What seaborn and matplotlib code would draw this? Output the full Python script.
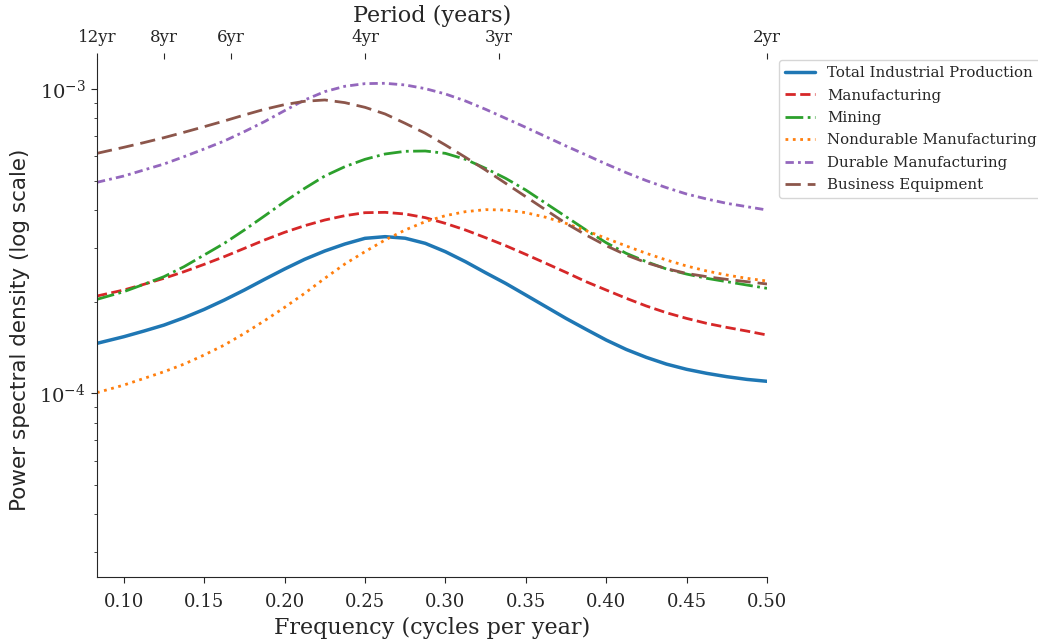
import numpy as np
import pandas as pd
import matplotlib
matplotlib.use("Agg")
import matplotlib.pyplot as plt
import seaborn as sns

# frequencies (cycles per year) at which the curves were read
freq = [1 / 12, 0.1000, 0.1125, 0.1250, 0.1375, 0.1500, 0.1625, 0.1750, 0.1875,
        0.2000, 0.2125, 0.2250, 0.2375, 0.2500, 0.2625, 0.2750, 0.2875,
        0.3000, 0.3125, 0.3250, 0.3375, 0.3500, 0.3625, 0.3750, 0.3875,
        0.4000, 0.4125, 0.4250, 0.4375, 0.4500, 0.4625, 0.4750, 0.4875, 0.5000]

# power spectral density, in units of 1e-3
total_ip = [0.1457, 0.1532, 0.1599, 0.1673, 0.1769, 0.1884, 0.2022, 0.2182, 0.2365,
            0.2558, 0.2753, 0.2932, 0.3091, 0.3227, 0.3268, 0.3230, 0.3107,
            0.2917, 0.2704, 0.2487, 0.2294, 0.2101, 0.1923, 0.1760, 0.1620,
            0.1494, 0.1391, 0.1310, 0.1245, 0.1197, 0.1161, 0.1132, 0.1109, 0.1093]
manufacturing = [0.2085, 0.2182, 0.2278, 0.2384, 0.2507, 0.2650, 0.2809, 0.2991, 0.3186,
                 0.3377, 0.3551, 0.3707, 0.3831, 0.3919, 0.3929, 0.3880, 0.3774,
                 0.3614, 0.3437, 0.3243, 0.3052, 0.2858, 0.2671, 0.2494, 0.2324,
                 0.2182, 0.2049, 0.1933, 0.1837, 0.1760, 0.1695, 0.1644, 0.1599, 0.1552]
mining = [0.2033, 0.2154, 0.2278, 0.2414, 0.2604, 0.2844, 0.3107, 0.3437, 0.3822,
          0.4259, 0.4712, 0.5173, 0.5552, 0.5870, 0.6111, 0.6237, 0.6252,
          0.6142, 0.5870, 0.5483, 0.5082, 0.4653, 0.4206, 0.3802, 0.3437,
          0.3122, 0.2880, 0.2704, 0.2558, 0.2462, 0.2384, 0.2324, 0.2266, 0.2210]
nondurable = [0.1003, 0.1062, 0.1117, 0.1175, 0.1245, 0.1334, 0.1438, 0.1571, 0.1729,
              0.1913, 0.2128, 0.2384, 0.2657, 0.2917, 0.3186, 0.3437, 0.3662,
              0.3831, 0.3949, 0.4010, 0.3999, 0.3919, 0.3784, 0.3614, 0.3420,
              0.3227, 0.3045, 0.2880, 0.2738, 0.2617, 0.2520, 0.2444, 0.2384, 0.2336]
durable = [0.4932, 0.5173, 0.5414, 0.5665, 0.5990, 0.6347, 0.6743, 0.7240, 0.7808,
           0.8485, 0.9201, 0.9800, 1.0205, 1.0412, 1.0439, 1.0308, 1.0025,
           0.9629, 0.9131, 0.8573, 0.8007, 0.7477, 0.6968, 0.6494, 0.6067,
           0.5665, 0.5306, 0.4995, 0.4736, 0.4514, 0.4347, 0.4206, 0.4101, 0.3999]
business_eq = [0.6142, 0.6428, 0.6661, 0.6916, 0.7204, 0.7515, 0.7847, 0.8212, 0.8573,
               0.8882, 0.9109, 0.9201, 0.9017, 0.8702, 0.8276, 0.7709, 0.7150,
               0.6543, 0.5960, 0.5414, 0.4895, 0.4424, 0.3999, 0.3614, 0.3309,
               0.3052, 0.2844, 0.2684, 0.2564, 0.2474, 0.2414, 0.2365, 0.2324, 0.2284]

periods = [12, 8, 6, 4, 3, 2]
period_labels = ["12yr", "8yr", "6yr", "4yr", "3yr", "2yr"]

series = {
    "Total Industrial Production": total_ip,
    "Manufacturing": manufacturing,
    "Mining": mining,
    "Nondurable Manufacturing": nondurable,
    "Durable Manufacturing": durable,
    "Business Equipment": business_eq,
}

styles = {
    "Total Industrial Production": ("#1f77b4", "-", 2.5),
    "Manufacturing": ("#d62728", "--", 2),
    "Mining": ("#2ca02c", "-.", 2),
    "Nondurable Manufacturing": ("#ff7f0e", ":", 2),
    "Durable Manufacturing": ("#9467bd", (0, (3, 1.5, 1, 1.5)), 2),
    "Business Equipment": ("#8c564b", (0, (5.5, 2.5)), 2),
}

if __name__ == "__main__":
    sns.set_style("ticks")
    plt.rcParams["font.family"] = ["DejaVu Serif"]

    fig = plt.figure(figsize=(10.38, 6.41), dpi=100)
    ax = fig.add_axes([0.0934, 0.0998, 0.6455, 0.8082])

    for name, vals in series.items():
        color, ls, lw = styles[name]
        df = pd.DataFrame({"freq": freq, "psd": np.array(vals) * 1e-3})
        sns.lineplot(data=df, x="freq", y="psd", ax=ax, color=color,
                     linestyle=ls, linewidth=lw, label=name)

    ax.set_yscale("log")
    ax.set_xlim(1 / 12, 0.5)
    ax.set_ylim(2.483e-5, 1.255e-3)
    ax.set_xticks([0.10, 0.15, 0.20, 0.25, 0.30, 0.35, 0.40, 0.45, 0.50])
    ax.tick_params(axis="x", labelsize=13, length=4.5, pad=7)
    ax.tick_params(axis="y", which="major", labelsize=14, length=4.5)
    ax.set_xlabel("Frequency (cycles per year)", fontsize=16)
    ax.set_ylabel("Power spectral density (log scale)", fontsize=15.5,
                  family="DejaVu Sans")
    ax.yaxis.set_label_coords(-0.100, 0.477)
    sns.despine(ax=ax)

    # top axis showing the period
    ax2 = ax.twiny()
    ax2.set_xlim(ax.get_xlim())
    ax2.set_xticks([1 / p for p in periods])
    ax2.set_xticklabels(period_labels, fontsize=12)
    ax2.tick_params(axis="x", length=4.5, pad=5)
    for sp in ax2.spines.values():
        sp.set_visible(False)
    ax2.set_xlabel("Period (years)", fontsize=16, labelpad=5)

    leg = ax.legend(loc="upper left", bbox_to_anchor=(1.007, 1.012), fontsize=10.8,
                    labelspacing=0.56, frameon=True)

    fig.savefig("out.png", dpi=100)
